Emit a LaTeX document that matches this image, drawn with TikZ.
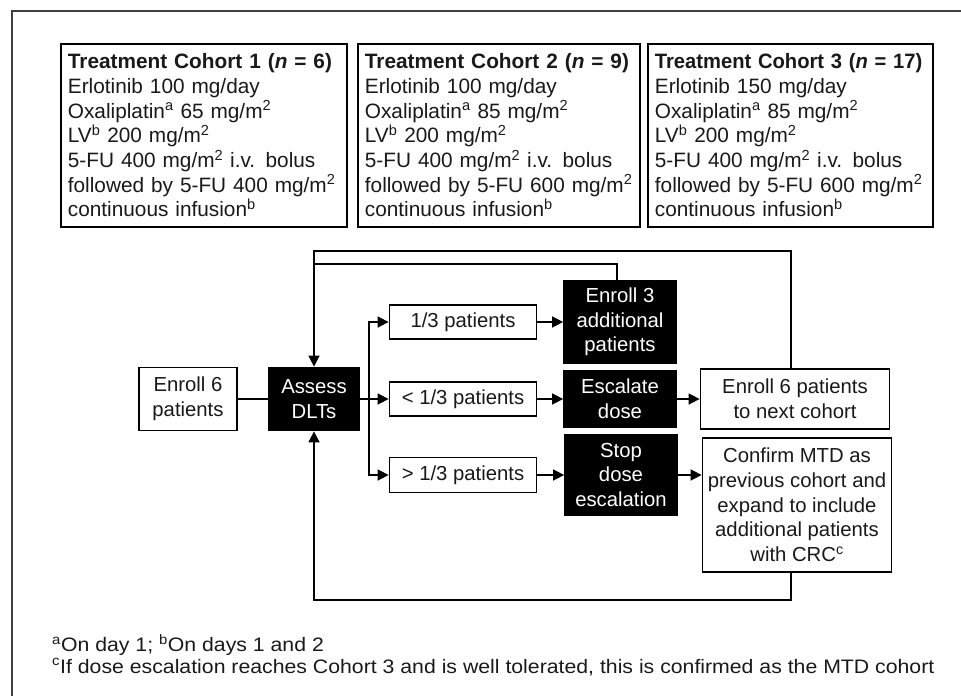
\documentclass[tikz,border=0pt]{standalone}
\usepackage{fontspec}
\setmainfont{Liberation Sans}
\usetikzlibrary{arrows.meta,calc}
\definecolor{textc}{gray}{0.1}
\newcommand{\cohorttext}[6]{\mbox{\scalebox{#6}[1]{\textbf{Treatment Cohort #1 (\textit{n} = #2)}}}\\
\mbox{Erlotinib #3 mg/day}\\
\mbox{Oxaliplatin\textsuperscript{a} #4 mg/m\textsuperscript{2}}\\
\mbox{LV\textsuperscript{b} 200 mg/m\textsuperscript{2}}\\
\mbox{5-FU 400 mg/m\textsuperscript{2} i.v. bolus}\\
\mbox{followed by 5-FU #5 mg/m\textsuperscript{2}}\\
\mbox{continuous infusion\textsuperscript{b}}}
\begin{document}
\begin{tikzpicture}[x=1pt,y=-1pt,
  every node/.style={font=\fontsize{20.3}{24.7}\selectfont, text=textc},
  box/.style={draw=black, line width=1.8pt, fill=white, inner sep=2pt, align=center},
  dark/.style={box, fill=black, text=white},
  cohort/.style={draw=black, line width=1.8pt, anchor=north west, align=left, inner xsep=7pt, inner ysep=0pt, font=\fontsize{20.8}{24.7}\selectfont},
  conn/.style={line width=1.6pt, draw=black},
  arr/.style={conn, -{Triangle[length=11pt,width=11pt]}},
  frame/.style={line width=1.6pt, draw=black!75},
  foot/.style={anchor=west, font=\fontsize{19.5}{23}\selectfont, inner sep=0pt},
]
\useasboundingbox (0,0) rectangle (961,696);
\draw[frame] (12,696) -- (12,11) -- (961,11);

% cohort boxes
\node[cohort, text width=272pt, minimum height=183pt] (c1) at (60,43) {\cohorttext{1}{6}{100}{65}{400}{1}};
\node[cohort, text width=268pt, minimum height=183pt] (c2) at (357,43) {\cohorttext{2}{9}{100}{85}{600}{1}};
\node[cohort, text width=271pt, minimum height=183pt] (c3) at (647,43) {\cohorttext{3}{17}{150}{85}{600}{0.97}};

% flow nodes
\node[box, minimum width=98pt, minimum height=63pt] (enroll) at (188,399) {Enroll 6\\patients};
\node[dark, minimum width=90pt, minimum height=63pt] (assess) at (314,399) {Assess\\DLTs};
\node[box, minimum width=147pt, minimum height=34pt] (p1) at (463,322) {1/3 patients};
\node[box, minimum width=147pt, minimum height=34pt] (p2) at (463,399) {< 1/3 patients};
\node[box, minimum width=147pt, minimum height=35pt] (p3) at (463,475) {> 1/3 patients};
\node[dark, minimum width=112pt, minimum height=82pt] (e3) at (620,322) {Enroll 3\\additional\\patients};
\node[dark, minimum width=112pt, minimum height=56pt] (esc) at (620,399) {Escalate\\dose};
\node[dark, minimum width=112pt, minimum height=81pt] (stop) at (621,475) {Stop\\dose\\escalation};
\node[box, minimum width=189pt, minimum height=60pt] (next) at (795,399) {Enroll 6 patients\\to next cohort};
\node[box, minimum width=189pt, minimum height=134pt] (conf) at (797,505) {Confirm MTD as\\previous cohort and\\expand to include\\additional patients\\with CRC\textsuperscript{c}};

% helper coordinates
\coordinate (br) at (369,399);
\coordinate (tl) at (314,251);
\coordinate (tr) at (791,251);
\coordinate (il) at (617,264);
\coordinate (bl) at (314,600);
\coordinate (brr) at (791,600);

% connectors
\draw[conn] (enroll) -- (assess);
\draw[arr] (assess) -- (p2);
\draw[arr] (br) |- (p1.west);
\draw[arr] (br) |- (p3.west);
\draw[arr] (p1) -- (e3);
\draw[arr] (p2) -- (esc);
\draw[arr] (p3) -- (stop);
\draw[arr] (esc) -- (next);
\draw[arr] (stop.east) -- (stop.east -| conf.west);
\draw[arr] (next.north -| tr) -- (tr) -- (tl) -- (assess.north);
\draw[conn] (e3.north -| il) -- (il) -- (tl |- il);
\draw[arr] (conf.south -| brr) -- (brr) -- (bl) -- (assess.south);

% footnotes
\node[foot] (f1) at (52,645) {\scalebox{1.09}[1]{\textsuperscript{a}On day 1; \textsuperscript{b}On days 1 and 2}};
\node[foot] (f2) at (52,667) {\scalebox{1.09}[1]{\textsuperscript{c}If dose escalation reaches Cohort 3 and is well tolerated, this is confirmed as the MTD cohort}};
\end{tikzpicture}
\end{document}
